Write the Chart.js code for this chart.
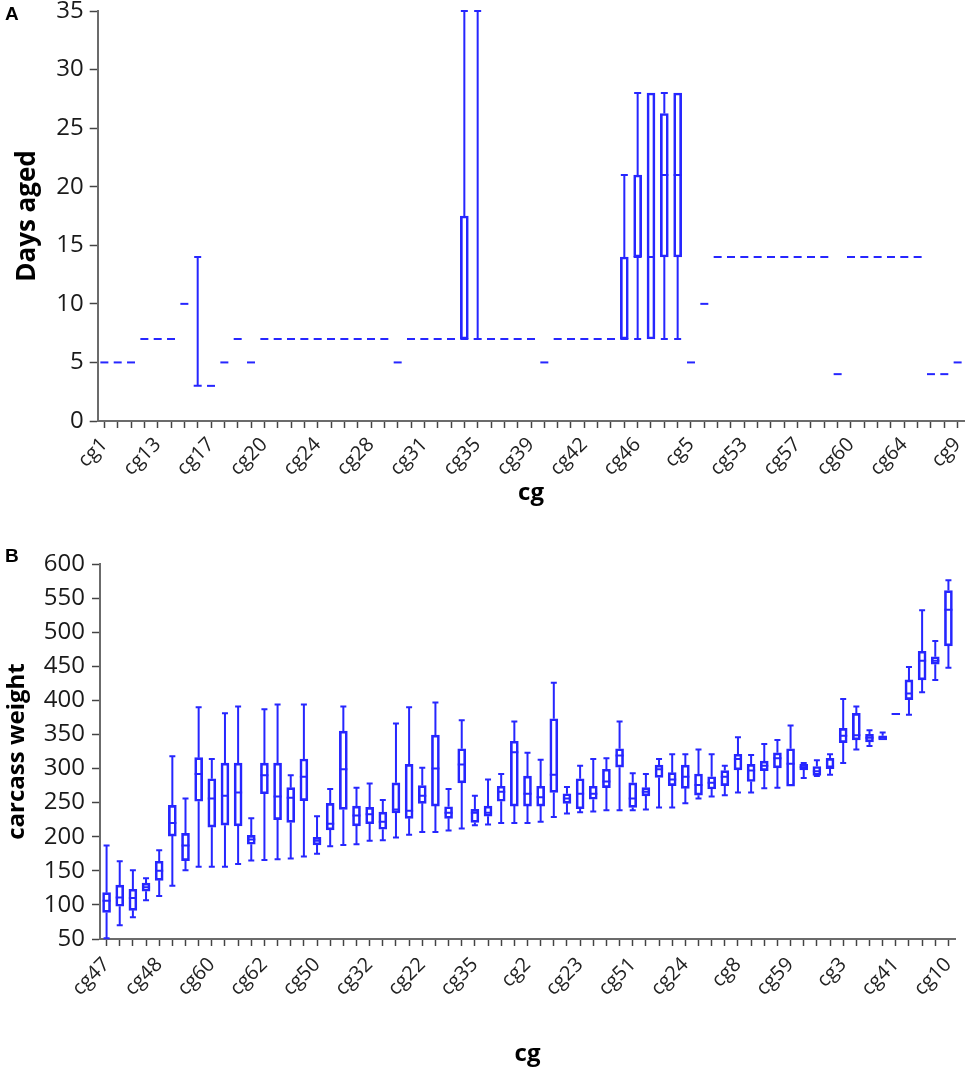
<!DOCTYPE html>
<html>
<head>
<meta charset="utf-8">
<title>Days aged and carcass weight by cg</title>
<script src="https://cdn.jsdelivr.net/npm/chart.js@4.4.1/dist/chart.umd.min.js"></script>
<style>
  body { margin: 0; background: #fff; width: 969px; height: 1083px; position: relative; overflow: hidden; }
  .panel-letter { position: absolute; left: 5px; font: bold 19px 'Liberation Sans', Arial, sans-serif; line-height: 19px; color: #000; z-index: 2; }
  #wrapA { position: absolute; left: 0; top: -10px; }
  #wrapB { position: absolute; left: 0; top: 540px; }
</style>
</head>
<body>
<div class="panel-letter" style="top:4px">A</div>
<div class="panel-letter" style="top:546px">B</div>
<div id="wrapA"><canvas id="chartA" width="969" height="530"></canvas></div>
<div id="wrapB"><canvas id="chartB" width="969" height="543"></canvas></div>

<script>
'use strict';

// ---- panel A : days aged per cg (alphabetical order) ----
const daysCategories = [
  'cg1', 'cg10', 'cg11', 'cg12', 'cg13', 'cg14', 'cg15', 'cg16', 'cg17', 'cg18',
  'cg19', 'cg2', 'cg20', 'cg21', 'cg22', 'cg23', 'cg24', 'cg25', 'cg26', 'cg27',
  'cg28', 'cg29', 'cg3', 'cg30', 'cg31', 'cg32', 'cg33', 'cg34', 'cg35', 'cg36',
  'cg37', 'cg38', 'cg39', 'cg4', 'cg40', 'cg41', 'cg42', 'cg43', 'cg44', 'cg45',
  'cg46', 'cg47', 'cg48', 'cg49', 'cg5', 'cg50', 'cg51', 'cg52', 'cg53', 'cg54',
  'cg55', 'cg56', 'cg57', 'cg58', 'cg59', 'cg6', 'cg60', 'cg61', 'cg62', 'cg63',
  'cg64', 'cg65', 'cg7', 'cg8', 'cg9'
];
const daysMin = [
  5, 5, 5, 7, 7, 7, 10, 3, 3, 5,
  7, 5, 7, 7, 7, 7, 7, 7, 7, 7,
  7, 7, 5, 7, 7, 7, 7, 7, 7, 7,
  7, 7, 7, 5, 7, 7, 7, 7, 7, 7,
  7, 7, 7, 7, 5, 10, 14, 14, 14, 14,
  14, 14, 14, 14, 14, 4, 14, 14, 14, 14,
  14, 14, 4, 4, 5
];
const daysQ1 = [
  5, 5, 5, 7, 7, 7, 10, 3, 3, 5,
  7, 5, 7, 7, 7, 7, 7, 7, 7, 7,
  7, 7, 5, 7, 7, 7, 7, 7, 7, 7,
  7, 7, 7, 5, 7, 7, 7, 7, 7, 7,
  14, 7, 14, 14, 5, 10, 14, 14, 14, 14,
  14, 14, 14, 14, 14, 4, 14, 14, 14, 14,
  14, 14, 4, 4, 5
];
const daysMedian = [
  5, 5, 5, 7, 7, 7, 10, 3, 3, 5,
  7, 5, 7, 7, 7, 7, 7, 7, 7, 7,
  7, 7, 5, 7, 7, 7, 7, 7, 7, 7,
  7, 7, 7, 5, 7, 7, 7, 7, 7, 7,
  14, 14, 21, 21, 5, 10, 14, 14, 14, 14,
  14, 14, 14, 14, 14, 4, 14, 14, 14, 14,
  14, 14, 4, 4, 5
];
const daysQ3 = [
  5, 5, 5, 7, 7, 7, 10, 3, 3, 5,
  7, 5, 7, 7, 7, 7, 7, 7, 7, 7,
  7, 7, 5, 7, 7, 7, 7, 17.5, 7, 7,
  7, 7, 7, 5, 7, 7, 7, 7, 7, 14,
  21, 28, 26.25, 28, 5, 10, 14, 14, 14, 14,
  14, 14, 14, 14, 14, 4, 14, 14, 14, 14,
  14, 14, 4, 4, 5
];
const daysMax = [
  5, 5, 5, 7, 7, 7, 10, 14, 3, 5,
  7, 5, 7, 7, 7, 7, 7, 7, 7, 7,
  7, 7, 5, 7, 7, 7, 7, 35, 35, 7,
  7, 7, 7, 5, 7, 7, 7, 7, 7, 21,
  28, 28, 28, 28, 5, 10, 14, 14, 14, 14,
  14, 14, 14, 14, 14, 4, 14, 14, 14, 14,
  14, 14, 4, 4, 5
];
const daysTicks = [0, 5, 10, 15, 20, 25, 30, 35];

// ---- panel B : carcass weight per cg (sorted by median) ----
const weightCategories = [
  'cg47', 'cg1', 'cg11', 'cg12', 'cg48', 'cg13', 'cg14', 'cg15', 'cg60', 'cg16',
  'cg17', 'cg18', 'cg62', 'cg19', 'cg20', 'cg21', 'cg50', 'cg25', 'cg26', 'cg27',
  'cg32', 'cg28', 'cg29', 'cg30', 'cg22', 'cg31', 'cg33', 'cg34', 'cg35', 'cg36',
  'cg37', 'cg38', 'cg2', 'cg39', 'cg4', 'cg40', 'cg23', 'cg42', 'cg43', 'cg44',
  'cg51', 'cg45', 'cg46', 'cg49', 'cg24', 'cg5', 'cg52', 'cg53', 'cg8', 'cg54',
  'cg55', 'cg56', 'cg59', 'cg57', 'cg58', 'cg6', 'cg3', 'cg61', 'cg63', 'cg64',
  'cg41', 'cg65', 'cg7', 'cg9', 'cg10'
];
const weightMin = [
  51, 70, 82, 107, 113, 128, 151, 156, 156, 156,
  160, 165, 166, 167, 168, 171, 175, 186, 188, 189,
  194, 195, 199, 203, 207, 207, 209, 212, 217, 218,
  220, 220, 220, 222, 229, 234, 236, 237, 239, 239,
  239, 240, 243, 243, 249, 256, 259, 261, 265, 265,
  271, 272, 274, 286, 289, 291, 308, 328, 333, 342,
  379, 379, 412, 430, 448
];
const weightQ1 = [
  89, 98, 92, 120, 136, 201, 165, 252, 214, 217,
  216, 189, 263, 225, 221, 253, 188, 210, 240, 216,
  219, 211, 235, 227, 249, 245, 227, 279, 221, 230,
  252, 245, 245, 245, 265, 249, 241, 255, 272, 302,
  243, 260, 287, 275, 271, 261, 270, 275, 298, 281,
  297, 301, 274, 298, 290, 300, 338, 342, 339, 342,
  379, 401, 430, 453, 480
];
const weightMedian = [
  106, 111, 110, 126, 150, 220, 187, 292, 256, 260,
  265, 196, 290, 259, 257, 288, 194, 219, 299, 231,
  233, 222, 240, 238, 260, 300, 235, 306, 235, 235,
  266, 324, 263, 258, 291, 256, 263, 263, 281, 319,
  256, 266, 299, 284, 288, 276, 279, 288, 314, 297,
  304, 315, 307, 302, 296, 303, 348, 349, 345, 345,
  380, 410, 458, 458, 533
];
const weightQ3 = [
  118, 129, 123, 132, 164, 246, 205, 316, 285, 308,
  308, 202, 308, 308, 272, 314, 199, 249, 355, 245,
  243, 236, 279, 306, 275, 349, 244, 329, 240, 245,
  274, 340, 289, 274, 373, 263, 285, 274, 299, 329,
  279, 272, 305, 294, 305, 292, 288, 297, 321, 306,
  311, 323, 329, 306, 303, 315, 359, 381, 350, 348,
  381, 430, 472, 464, 561
];
const weightMax = [
  187, 164, 151, 139, 180, 318, 256, 390, 314, 381,
  391, 227, 387, 394, 290, 394, 230, 270, 391, 272,
  278, 254, 366, 390, 301, 397, 270, 371, 260, 284,
  292, 369, 323, 313, 426, 273, 304, 314, 315, 369,
  293, 292, 314, 321, 321, 328, 321, 304, 346, 320,
  336, 342, 363, 308, 312, 321, 402, 391, 356, 353,
  381, 449, 532, 487, 576
];
const weightTicks = [50, 100, 150, 200, 250, 300, 350, 400, 450, 500, 550, 600];

const boxBlue = '#2626ff';
const axisGray = '#6b6b6b';
const fontFamily = "'Open Sans', 'Noto Sans', sans-serif";

// draws medians and whiskers on top of the floating-bar boxes
const boxWhiskerPlugin = {
  id: 'boxWhisker',
  afterDatasetsDraw(chart, args, opts) {
    let ctx = chart.ctx;
    let yScale = chart.scales.y;
    let bars = chart.getDatasetMeta(0).data;
    let half = opts.boxWidth / 2;
    let capHalf = opts.capWidth / 2;

    ctx.save();
    ctx.strokeStyle = opts.color;
    ctx.lineWidth = opts.lineWidth;
    ctx.lineCap = 'butt';
    for (let i = 0; i < bars.length; i++) {
      let x = bars[i].x;
      let yQ1 = yScale.getPixelForValue(opts.q1[i]);
      let yQ3 = yScale.getPixelForValue(opts.q3[i]);
      let yMed = yScale.getPixelForValue(opts.median[i]);

      ctx.beginPath();
      ctx.moveTo(x - half, yMed);
      ctx.lineTo(x + half, yMed);

      if (opts.max[i] > opts.q3[i]) {
        let yMax = yScale.getPixelForValue(opts.max[i]);
        ctx.moveTo(x, yQ3);
        ctx.lineTo(x, yMax);
        ctx.moveTo(x - capHalf, yMax);
        ctx.lineTo(x + capHalf, yMax);
      }
      if (opts.min[i] < opts.q1[i]) {
        let yMin = yScale.getPixelForValue(opts.min[i]);
        ctx.moveTo(x, yQ1);
        ctx.lineTo(x, yMin);
        ctx.moveTo(x - capHalf, yMin);
        ctx.lineTo(x + capHalf, yMin);
      }
      ctx.stroke();
    }
    ctx.restore();
  }
};

function makeBoxChart(canvas, cfg) {
  let boxes = [];
  for (let i = 0; i < cfg.labels.length; i++) {
    boxes.push([cfg.q1[i], cfg.q3[i]]);
  }

  return new Chart(canvas, {
    type: 'bar',
    data: {
      labels: cfg.labels,
      datasets: [{
        data: boxes,
        backgroundColor: 'rgba(255,255,255,0)',
        borderColor: boxBlue,
        borderWidth: 2,
        borderSkipped: false,
        barThickness: cfg.boxWidth
      }]
    },
    plugins: [boxWhiskerPlugin],
    options: {
      responsive: false,
      animation: false,
      layout: { padding: cfg.padding },
      plugins: {
        legend: { display: false },
        tooltip: { enabled: false },
        boxWhisker: {
          q1: cfg.q1, q3: cfg.q3, median: cfg.median, min: cfg.min, max: cfg.max,
          boxWidth: cfg.boxWidth, capWidth: cfg.capWidth, color: boxBlue, lineWidth: 2
        }
      },
      scales: {
        x: {
          grid: {
            display: true, offset: false, drawOnChartArea: false,
            drawTicks: true, tickLength: 7, tickColor: '#444', tickWidth: 1.5
          },
          border: { display: true, color: axisGray, width: 2 },
          ticks: {
            autoSkip: false, minRotation: 45, maxRotation: 45, padding: cfg.xTickPad,
            color: '#222', font: { family: fontFamily, size: 20 },
            callback: function(val, idx) {
              return idx % 4 === 0 ? this.getLabelForValue(val) : '';
            }
          },
          title: {
            display: true, text: 'cg', color: '#000',
            font: { family: fontFamily, size: 24, weight: 'bold' },
            padding: { top: 0, bottom: cfg.xTitleBottom }
          },
          afterFit: function(scale) {
            // keep the plot width fixed, rotated labels may hang over the edge
            scale.height = cfg.xHeight;
            scale.paddingLeft = 0;
            scale.paddingRight = 0;
          }
        },
        y: {
          min: cfg.ticks[0],
          max: cfg.ticks[cfg.ticks.length - 1],
          afterBuildTicks: function(scale) {
            scale.ticks = cfg.ticks.map(v => ({ value: v }));
          },
          grid: {
            display: true, drawOnChartArea: false, drawTicks: true,
            tickLength: 8, tickColor: '#444', tickWidth: 1.5
          },
          border: { display: true, color: axisGray, width: 2 },
          ticks: {
            padding: cfg.yTickPad, color: '#1a1a1a',
            font: { family: fontFamily, size: 24, lineHeight: 1 }
          },
          title: {
            display: true, text: cfg.yTitle, color: '#000',
            font: { family: fontFamily, size: cfg.yTitleSize, weight: 'bold' },
            padding: { top: cfg.yTitleTop, bottom: 0 }
          },
          afterFit: function(scale) { scale.width = cfg.yWidth; }
        }
      }
    }
  });
}

// canvas A starts 10px above the page so the plot top can sit at y=11
makeBoxChart(document.getElementById('chartA'), {
  labels: daysCategories,
  q1: daysQ1, q3: daysQ3, median: daysMedian, min: daysMin, max: daysMax,
  ticks: daysTicks,
  yTitle: 'Days aged', yTitleSize: 26,
  boxWidth: 8, capWidth: 7,
  padding: { left: 0, right: 4.7, top: 21, bottom: 0 },
  yWidth: 97.7, xHeight: 99, xTitleBottom: 12, xTickPad: 5,
  yTitleTop: 12, yTickPad: 6
});

makeBoxChart(document.getElementById('chartB'), {
  labels: weightCategories,
  q1: weightQ1, q3: weightQ3, median: weightMedian, min: weightMin, max: weightMax,
  ticks: weightTicks,
  yTitle: 'carcass weight', yTitleSize: 24,
  boxWidth: 8, capWidth: 6,
  padding: { left: 0, right: 14, top: 24, bottom: 0 },
  yWidth: 100, xHeight: 144, xTitleBottom: 14, xTickPad: 7,
  yTitleTop: 3, yTickPad: 7
});
</script>
</body>
</html>
